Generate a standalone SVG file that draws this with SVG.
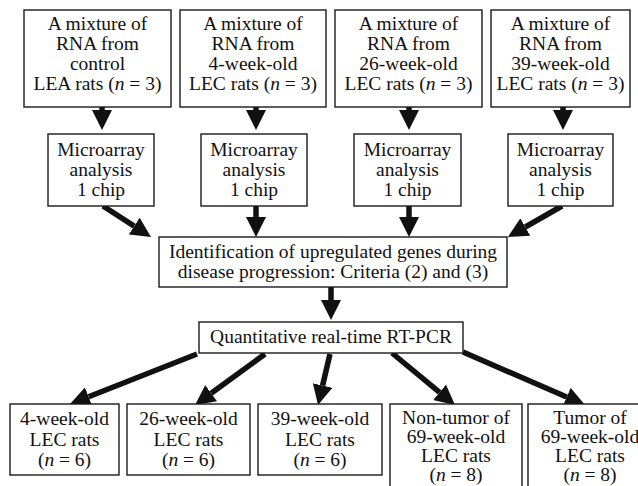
<svg xmlns="http://www.w3.org/2000/svg" width="638" height="486" viewBox="0 0 638 486">
<defs>
<style>
.box{fill:#fff;stroke:#1a1a1a;stroke-width:1.4}
.t text{font-size:19.5px;fill:#111;text-anchor:middle}
.i{font-style:italic}
.ar{stroke:#111;stroke-width:5.5;fill:none;marker-end:url(#h)}
</style>
<marker id="h" viewBox="0 -10 20 20" refX="0" refY="0" markerWidth="20" markerHeight="20" markerUnits="userSpaceOnUse" orient="auto">
<path d="M0,-10 L20,0 L0,10 z" fill="#111"/>
</marker>
</defs>
<rect width="638" height="486" fill="#fff"/>
<g id="connectors">
<line class="ar" x1="102" y1="106" x2="102" y2="110"/>
<line class="ar" x1="256" y1="106" x2="256" y2="110"/>
<line class="ar" x1="409" y1="106" x2="409" y2="110"/>
<line class="ar" x1="563" y1="106" x2="563" y2="110"/>
<line class="ar" x1="103" y1="206" x2="134.2" y2="226.1"/>
<line class="ar" x1="256" y1="206" x2="256" y2="217"/>
<line class="ar" x1="409" y1="206" x2="409" y2="217"/>
<line class="ar" x1="562" y1="206" x2="525.3" y2="227"/>
<line class="ar" x1="331" y1="287" x2="331" y2="300"/>
<line class="ar" x1="197" y1="354" x2="88.6" y2="396.7"/>
<line class="ar" x1="265" y1="354" x2="211.2" y2="393.2"/>
<line class="ar" x1="330" y1="354" x2="322.6" y2="385.5"/>
<line class="ar" x1="392" y1="353" x2="439.6" y2="392.3"/>
<line class="ar" x1="463" y1="352" x2="566.7" y2="397"/>
</g>
<g class="t" font-family="'Liberation Serif', 'Times New Roman', serif">
<g id="mix1"><rect class="box" x="24" y="10" width="147" height="97"/>
<text x="97.5" y="30">A mixture of</text><text x="97.5" y="50">RNA from</text><text x="97.5" y="70">control</text><text x="97.5" y="90">LEA rats (<tspan class="i">n</tspan> = 3)</text></g>
<g id="mix2"><rect class="box" x="180" y="10" width="146" height="97"/>
<text x="253" y="30">A mixture of</text><text x="253" y="50">RNA from</text><text x="253" y="70">4-week-old</text><text x="253" y="90">LEC rats (<tspan class="i">n</tspan> = 3)</text></g>
<g id="mix3"><rect class="box" x="335" y="10" width="147" height="97"/>
<text x="408.5" y="30">A mixture of</text><text x="408.5" y="50">RNA from</text><text x="408.5" y="70">26-week-old</text><text x="408.5" y="90">LEC rats (<tspan class="i">n</tspan> = 3)</text></g>
<g id="mix4"><rect class="box" x="491" y="10" width="139" height="97"/>
<text x="560.5" y="30">A mixture of</text><text x="560.5" y="50">RNA from</text><text x="560.5" y="70">39-week-old</text><text x="560.5" y="90">LEC rats (<tspan class="i">n</tspan> = 3)</text></g>
<g id="chip1"><rect class="box" x="48" y="134" width="106" height="72"/>
<text x="101" y="156">Microarray</text><text x="101" y="176">analysis</text><text x="101" y="196">1 chip</text></g>
<g id="chip2"><rect class="box" x="201" y="134" width="106" height="72"/>
<text x="254" y="156">Microarray</text><text x="254" y="176">analysis</text><text x="254" y="196">1 chip</text></g>
<g id="chip3"><rect class="box" x="354" y="134" width="107" height="72"/>
<text x="407.5" y="156">Microarray</text><text x="407.5" y="176">analysis</text><text x="407.5" y="196">1 chip</text></g>
<g id="chip4"><rect class="box" x="508" y="134" width="105" height="72"/>
<text x="560.5" y="156">Microarray</text><text x="560.5" y="176">analysis</text><text x="560.5" y="196">1 chip</text></g>
<g id="ident"><rect class="box" x="159" y="237" width="348" height="50"/>
<text x="333" y="258">Identification of upregulated genes during</text><text x="333" y="278">disease progression: Criteria (2) and (3)</text></g>
<g id="qpcr"><rect class="box" x="199" y="322" width="264" height="31"/>
<text x="331" y="343">Quantitative real-time RT-PCR</text></g>
<g id="b1"><rect class="box" x="10" y="404" width="109" height="71"/>
<text x="64.5" y="425">4-week-old</text><text x="64.5" y="446">LEC rats</text><text x="64.5" y="466">(<tspan class="i">n</tspan> = 6)</text></g>
<g id="b2"><rect class="box" x="127" y="404" width="123" height="71"/>
<text x="188.5" y="425">26-week-old</text><text x="188.5" y="446">LEC rats</text><text x="188.5" y="466">(<tspan class="i">n</tspan> = 6)</text></g>
<g id="b3"><rect class="box" x="258" y="404" width="124" height="71"/>
<text x="320" y="425">39-week-old</text><text x="320" y="446">LEC rats</text><text x="320" y="466">(<tspan class="i">n</tspan> = 6)</text></g>
<g id="b4"><rect class="box" x="390" y="404" width="132" height="100"/>
<text x="456" y="424">Non-tumor of</text><text x="456" y="443">69-week-old</text><text x="456" y="462">LEC rats</text><text x="456" y="481">(<tspan class="i">n</tspan> = 8)</text></g>
<g id="b5"><rect class="box" x="528" y="404" width="124" height="100"/>
<text x="590" y="424">Tumor of</text><text x="590" y="443">69-week-old</text><text x="590" y="462">LEC rats</text><text x="590" y="481">(<tspan class="i">n</tspan> = 8)</text></g>
</g>
</svg>
